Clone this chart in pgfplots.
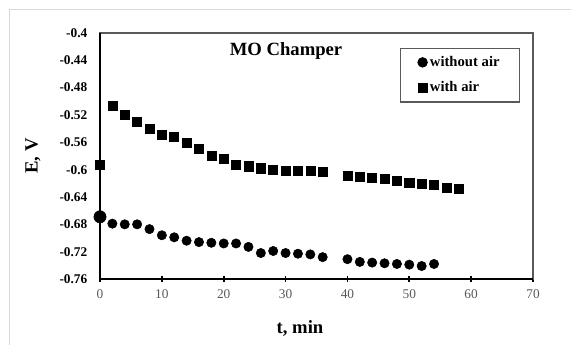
\documentclass[border=0pt]{standalone}
\usepackage{fontspec}
\setmainfont{Liberation Serif}
\usepackage{pgfplots}
\pgfplotsset{compat=1.18}
\definecolor{frame}{RGB}{217,217,217}
\definecolor{axgray}{RGB}{89,89,89}
\begin{document}
\begin{tikzpicture}[x=0.75pt,y=0.75pt]
\useasboundingbox (0,0) rectangle (571,345);
\draw[frame, line width=0.75pt] (9,0) -- (9,335) -- (571,335);
\begin{axis}[
  at={(75pt,49.5pt)}, anchor=south west,
  scale only axis, width=324.75pt, height=184.5pt,
  xmin=0, xmax=70, ymin=-0.76, ymax=-0.4,
  xtick={0,10,20,30,40,50,60,70},
  xticklabels={0,10,20,30,40,50,60,70},
  ytick={-0.76,-0.72,-0.68,-0.64,-0.6,-0.56,-0.52,-0.48,-0.44,-0.4},
  yticklabels={-0.76,-0.72,-0.68,-0.64,-0.6,-0.56,-0.52,-0.48,-0.44,-0.4},
  xtick pos=bottom, ytick pos=left,
  tick align=center,
  major tick length=4pt,
  xtick style={black, line width=1.2pt},
  ytick style={draw=none},
  axis line style={axgray, line width=0.8pt},
  xticklabel style={font=\fontsize{10}{11}\selectfont, text=axgray, yshift=-2.5pt},
  yticklabel style={font=\fontsize{10}{11}\selectfont\bfseries, xshift=-4pt},
  clip=false,
  legend style={at={(axis description cs:0.693,0.94)}, anchor=north west,
    draw=axgray, line width=0.8pt, font=\fontsize{11}{12}\selectfont\bfseries,
    inner xsep=13pt, inner ysep=4pt, row sep=6pt,
    /tikz/every even column/.append style={column sep=1pt}},
  legend cell align=left,
  legend image code/.code={\draw[#1] plot coordinates {(0pt,0pt)};},
]
\draw[black, line width=1.5pt] (rel axis cs:0,1) -- (rel axis cs:0,0) -- (rel axis cs:1,0);
\addplot[only marks, mark=*, mark size=3.5pt, black] coordinates {
(2,-0.679) (4,-0.680) (6,-0.680) (8,-0.687) (10,-0.696) (12,-0.699)
(14,-0.704) (16,-0.706) (18,-0.707) (20,-0.708) (22,-0.708) (24,-0.713)
(26,-0.722) (28,-0.719) (30,-0.722) (32,-0.723) (34,-0.724) (36,-0.728)
(40,-0.731) (42,-0.735) (44,-0.736) (46,-0.737) (48,-0.738) (50,-0.739)
(52,-0.741) (54,-0.738)
};
\addlegendentry{without air}
\addplot[only marks, mark=square*, mark size=3.4pt, black] coordinates {
(0,-0.593) (2,-0.506) (4,-0.519) (6,-0.530) (8,-0.540) (10,-0.549)
(12,-0.552) (14,-0.560) (16,-0.570) (18,-0.579) (20,-0.584) (22,-0.593)
(24,-0.595) (26,-0.598) (28,-0.600) (30,-0.601) (32,-0.601) (34,-0.602)
(36,-0.603) (40,-0.609) (42,-0.610) (44,-0.612) (46,-0.614) (48,-0.616)
(50,-0.619) (52,-0.621) (54,-0.622) (56,-0.627) (58,-0.628)
};
\addlegendentry{with air}
\addplot[only marks, mark=*, mark size=4.6pt, black, forget plot] coordinates {(0,-0.669)};
\end{axis}
\node[font=\fontsize{14}{16}\selectfont\bfseries] at (286,294) {MO Champer};
\node[font=\fontsize{14}{16}\selectfont\bfseries, rotate=90] at (33,189) {E, V};
\node[font=\fontsize{14}{16}\selectfont\bfseries] at (300,17) {t, min};
\end{tikzpicture}
\end{document}
